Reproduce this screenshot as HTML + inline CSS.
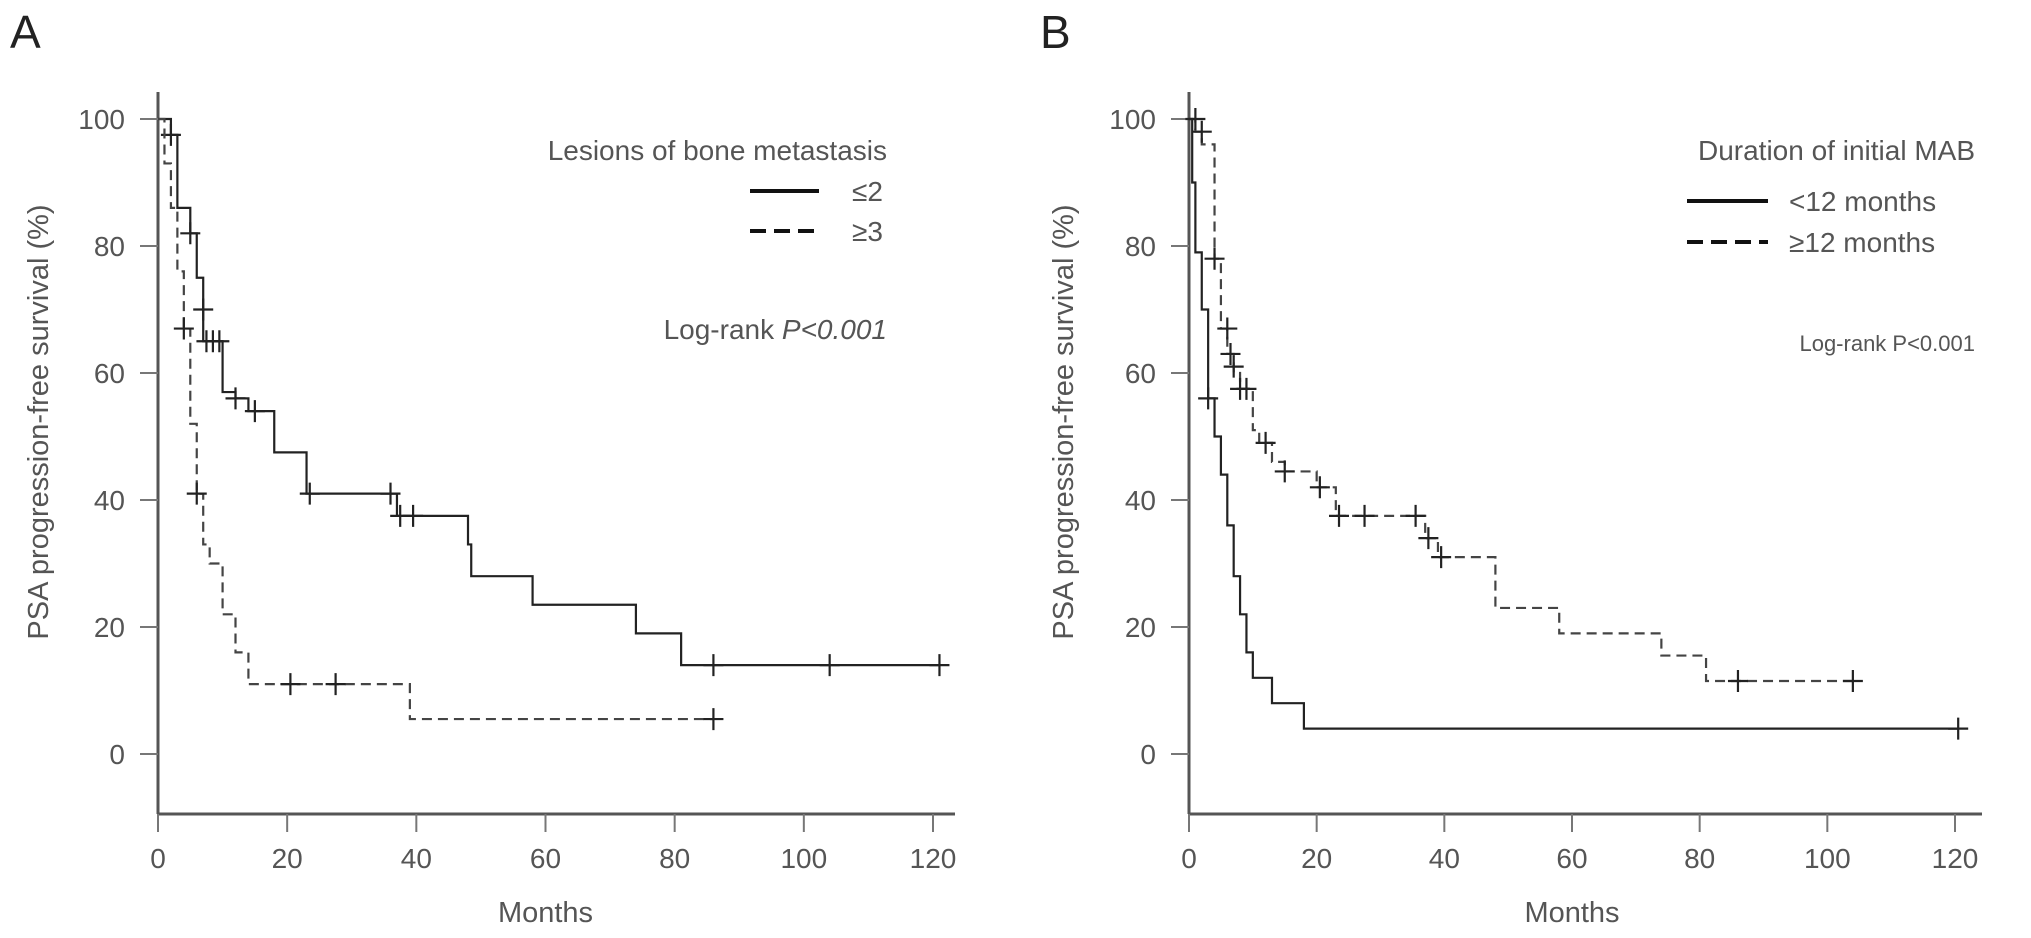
<!DOCTYPE html>
<html><head><meta charset="utf-8">
<style>
html,body{margin:0;padding:0;background:#fff;}
svg{display:block;font-family:"Liberation Sans",Arial,sans-serif;}
</style></head>
<body>
<svg id="chart" width="2031" height="938" viewBox="0 0 2031 938" xmlns="http://www.w3.org/2000/svg">
<text x="10" y="48" font-size="46" fill="#222">A</text>
<text x="1040" y="48" font-size="46" fill="#222">B</text>
<text x="887" y="160" font-size="28" fill="#555" text-anchor="end">Lesions of bone metastasis</text>
<line x1="750" y1="191" x2="819" y2="191" stroke="#111" stroke-width="4"/>
<text x="852" y="201" font-size="28" fill="#555">≤2</text>
<line x1="750" y1="231" x2="819" y2="231" stroke="#111" stroke-width="4" stroke-dasharray="16,8"/>
<text x="852" y="241" font-size="28" fill="#555">≥3</text>
<text x="887" y="339" font-size="28" fill="#555" text-anchor="end">Log-rank <tspan font-style="italic">P&lt;0.001</tspan></text>
<text x="1975" y="160" font-size="28" fill="#555" text-anchor="end">Duration of initial MAB</text>
<line x1="1687" y1="201" x2="1768" y2="201" stroke="#111" stroke-width="4"/>
<text x="1789" y="211" font-size="28" fill="#555">&lt;12 months</text>
<line x1="1687" y1="242" x2="1768" y2="242" stroke="#111" stroke-width="4" stroke-dasharray="16,8"/>
<text x="1789" y="252" font-size="28" fill="#555">≥12 months</text>
<text x="1975" y="351" font-size="22" fill="#555" text-anchor="end">Log-rank P&lt;0.001</text>
</svg>
<script>
const xTicks = [0,20,40,60,80,100,120];
const yTicks = [0,20,40,60,80,100];
// Panel A: <=2 lesions
const aSolidT = [0,2,3,5,6,7,10,12,14,18,23,37,48,48.5,58,74,81];
const aSolidS = [100,97.5,86,82,75,65,57,56,54,47.5,41,37.5,33,28,23.5,19,14];
const aSolidCT = [2,5,7,7.5,8.5,9.5,12,15,23.5,36,37.5,39.5,86,104,121];
const aSolidCS = [97.5,82,70,65,65,65,56,54,41,41,37.5,37.5,14,14,14];
// Panel A: >=3 lesions
const aDashT = [0,1,2,3,4,5,6,7,8,10,12,14,39];
const aDashS = [100,93,86,76,67,52,41,33,30,22,16,11,5.5];
const aDashCT = [4,6,20.5,27.5,86];
const aDashCS = [67,41,11,11,5.5];
// Panel B: <12 months
const bSolidT = [0,0.5,1,2,3,4,5,6,7,8,9,10,13,18];
const bSolidS = [100,90,79,70,56,50,44,36,28,22,16,12,8,4];
const bSolidCT = [3,120.5];
const bSolidCS = [56,4];
// Panel B: >=12 months
const bDashT = [0,1,2,4,5,6,7,8,10,11,13,15,20,23,37,39,48,58,74,81];
const bDashS = [100,98,96,78,67,63,60,57.5,51,49,46,44.5,42,37.5,34,31,23,19,15.5,11.5];
const bDashCT = [1,2,4,6,6.5,7,8,9,12,15,20.5,23.5,27.5,35.5,37.5,39.5,86,104];
const bDashCS = [100,98,78,67,63,61,57.5,57.5,49,44.5,42,37.5,37.5,37.5,34,31,11.5,11.5];

const svg = document.getElementById('chart');
const NS = 'http://www.w3.org/2000/svg';
function mk(tag, attrs){const e=document.createElementNS(NS,tag);for(const k in attrs)e.setAttribute(k,attrs[k]);svg.appendChild(e);return e;}

function panel(p){
  const xs = v => p.x0 + v*(p.x120-p.x0)/120;
  const ys = v => p.y0 - v*(p.y0-p.y100)/100;
  let e = mk('line',{x1:p.x0,y1:92,x2:p.x0,y2:814,stroke:'#555','stroke-width':3});
  
  
  e = mk('line',{x1:p.x0,y1:814,x2:p.xEnd,y2:814,stroke:'#555','stroke-width':3});
  
  
  xTicks.forEach(t=>{
    const tl = mk('line',{x1:xs(t),y1:814,x2:xs(t),y2:832,stroke:'#777','stroke-width':2});
    
    
    const tx = mk('text',{x:xs(t),y:868,'font-size':28,fill:'#555','text-anchor':'middle'});
    tx.textContent = t;
    
    
  });
  yTicks.forEach(t=>{
    const tl = mk('line',{x1:p.x0-18,y1:ys(t),x2:p.x0,y2:ys(t),stroke:'#777','stroke-width':2});
    
    
    const tx = mk('text',{x:p.x0-33,y:ys(t)+10,'font-size':28,fill:'#555','text-anchor':'end'});
    tx.textContent = t;
    
    
  });
  const xt = mk('text',{x:(p.x0+p.x120)/2,y:922,'font-size':29,fill:'#555','text-anchor':'middle'});
  xt.textContent='Months';
  
  
  const yt = mk('text',{x:0,y:0,'font-size':29,fill:'#555','text-anchor':'middle',transform:`translate(${p.ylx},422) rotate(-90)`});
  yt.textContent='PSA progression-free survival (%)';
  
  
  p.series.forEach(s=>{
    let d = `M${xs(s.t[0])},${ys(s.s[0])}`;
    for(let i=1;i<s.t.length;i++){d+=` H${xs(s.t[i])} V${ys(s.s[i])}`;}
    d += ` H${xs(s.end)}`;
    const path = mk('path',{d:d,fill:'none',stroke:s.dash?'#444':'#222','stroke-width':2.2,'stroke-dasharray':s.dash?'10,6':'none'});
    
    
    s.ct.forEach((c,i)=>{
      const cx=xs(c), cy=ys(s.cs[i]);
      const m = mk('path',{d:`M${cx-10},${cy} H${cx+10} M${cx},${cy-11} V${cy+11}`,stroke:'#222','stroke-width':2.2,fill:'none'});
      
      
    });
  });
}
panel({id:'panel-a',x0:158,x120:933,xEnd:955,y0:754,y100:119,ylx:48,series:[
  {name:'le2',t:aSolidT,s:aSolidS,ct:aSolidCT,cs:aSolidCS,end:121,dash:false},
  {name:'ge3',t:aDashT,s:aDashS,ct:aDashCT,cs:aDashCS,end:86,dash:true}]});
panel({id:'panel-b',x0:1189,x120:1955,xEnd:1982,y0:754,y100:119,ylx:1073,series:[
  {name:'lt12',t:bSolidT,s:bSolidS,ct:bSolidCT,cs:bSolidCS,end:120.5,dash:false},
  {name:'ge12',t:bDashT,s:bDashS,ct:bDashCT,cs:bDashCS,end:104,dash:true}]});
</script>
</body></html>
